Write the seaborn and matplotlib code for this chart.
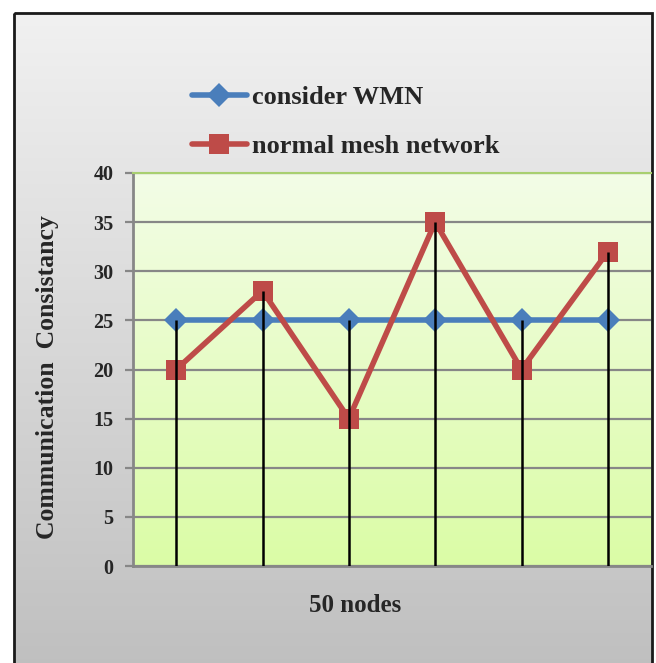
import numpy as np
import matplotlib
matplotlib.use("Agg")
import matplotlib.pyplot as plt
import seaborn as sns
import pandas as pd
from matplotlib.colors import LinearSegmentedColormap
from matplotlib.patches import Rectangle
from matplotlib.lines import Line2D

# ---- data ----
categories = ["1", "2", "3", "4", "5", "6"]
consider_wmn = [25, 25, 25, 25, 25, 25]
normal_mesh = [20, 28, 15, 35, 20, 32]
series_names = ["consider WMN", "normal mesh network"]
y_ticks = [0, 5, 10, 15, 20, 25, 30, 35, 40]

sns.set_theme(style="white")
plt.rcParams['font.family'] = ['Liberation Serif', 'DejaVu Serif']
plt.rcParams['font.weight'] = 'bold'

W, H = 656, 663
fig = plt.figure(figsize=(W / 100, H / 100), dpi=100)
fig.patch.set_facecolor("white")

# figure background gradient inside border
bg = fig.add_axes([0, 0, 1, 1], zorder=-5)
bg.axis("off")
grad_cmap = LinearSegmentedColormap.from_list("g", ["#f1f1f1", "#bdbdbd"])
grad = np.linspace(0, 1, 256).reshape(-1, 1)
bg.imshow(grad, cmap=grad_cmap, extent=[13.5, 652, 700, 12.5], aspect="auto", zorder=0)
bg.add_patch(Rectangle((13.5, 12.5), 638.5, 700, fill=False, edgecolor="#1a1a1a", lw=2, zorder=2))
bg.set_xlim(0, W); bg.set_ylim(H, 0)

left, right, top, bottom = 133, 651, 173, 566
ax = fig.add_axes([left / W, (H - bottom) / H, (right - left) / W, (bottom - top) / H])
ax.set_facecolor("none")

x = np.arange(len(categories))
df = pd.DataFrame({
    "x": np.concatenate([x, x]),
    "value": consider_wmn + normal_mesh,
    "series": [series_names[0]] * len(x) + [series_names[1]] * len(x),
})

# plot-area gradient
pcmap = LinearSegmentedColormap.from_list("p", ["#f3fde7", "#dbfca6"])
ax.imshow(grad, cmap=pcmap, extent=[-0.5, len(x) - 0.5, 0, 40], aspect="auto", zorder=0)

# drop lines
hi = np.maximum(consider_wmn, normal_mesh)
ax.vlines(x, 0, hi, color="black", lw=1.8, zorder=4)

palette = {series_names[0]: "#4a7ebb", series_names[1]: "#be4b48"}
markers = {series_names[0]: "D", series_names[1]: "s"}
sns.lineplot(data=df, x="x", y="value", hue="series", style="series",
             markers=markers, dashes=False, palette=palette, lw=4,
             markersize=13, markeredgewidth=0, ax=ax, zorder=3, legend=False)
for ln in ax.lines:
    if ln.get_marker() == "D":
        ln.set_markersize(12)
    elif ln.get_marker() == "s":
        ln.set_markersize(14)

ax.set_xlim(-0.5, len(x) - 0.5)
ax.set_ylim(0, 40)
ax.set_yticks(y_ticks)
ax.set_xticks([])
ax.yaxis.grid(True, color="#878787", lw=1.6, zorder=1)
ax.set_axisbelow(True)
ax.spines["right"].set_visible(False)
ax.spines["top"].set_color("#a8cf70"); ax.spines["top"].set_linewidth(1.5)
ax.spines["left"].set_color("#878787"); ax.spines["left"].set_linewidth(2)
ax.spines["bottom"].set_color("#878787"); ax.spines["bottom"].set_linewidth(2)
ax.tick_params(axis="y", which="both", left=True, length=6, width=1.6, color="#878787",
               labelsize=14.5, pad=8)
for t in ax.get_yticklabels():
    t.set_fontweight("bold")
ax.set_xlabel("")
ax.set_ylabel("Communication  Consistancy", fontsize=18.5, fontweight="bold")
ax.yaxis.set_label_coords(-0.142, 0.48)

fig.text(355 / W, 1 - 605 / H, "50 nodes", ha="center", va="center",
         fontsize=18, fontweight="bold")

# legend
handles = [Line2D([], [], color=palette[n], lw=4, marker=markers[n],
                  markersize=(12 if markers[n] == "D" else 14), markeredgewidth=0)
           for n in series_names]
fig.legend(handles, series_names, loc="upper left",
           bbox_to_anchor=(168 / W, 1 - 62 / H), frameon=False,
           prop={"size": 19, "weight": "bold"}, handlelength=2.1,
           labelspacing=0.95, handletextpad=0.2)

fig.savefig("out.png", dpi=100)
